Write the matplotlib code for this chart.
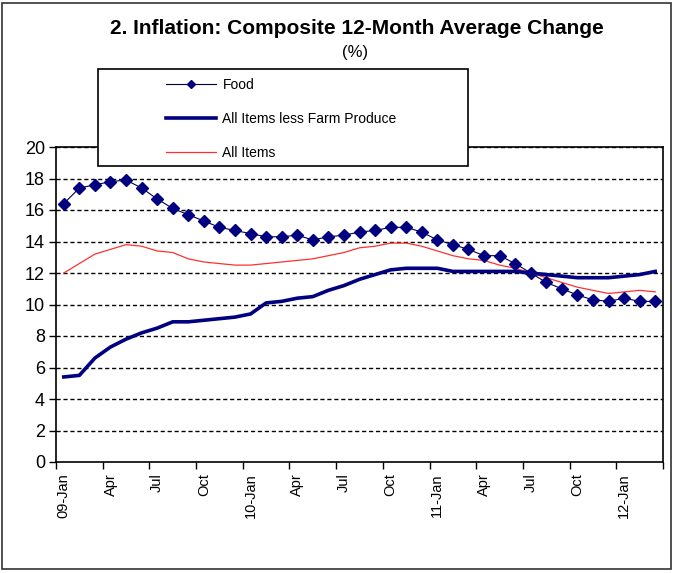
import matplotlib
matplotlib.use("Agg")
import matplotlib.pyplot as plt
from matplotlib.patches import Rectangle
from matplotlib.lines import Line2D

plt.rcParams['font.family'] = ['Liberation Sans', 'DejaVu Sans']

# Monthly data, Jan 2009 .. Mar 2012 (39 months)
food = [16.4, 17.4, 17.6, 17.8, 17.9, 17.4, 16.7, 16.1, 15.7, 15.3,
        14.9, 14.7, 14.5, 14.3, 14.3, 14.4, 14.1, 14.3, 14.4, 14.6,
        14.7, 14.9, 14.9, 14.6, 14.1, 13.8, 13.5, 13.1, 13.1, 12.6,
        12.0, 11.4, 11.0, 10.6, 10.3, 10.2, 10.4, 10.2, 10.2]
core = [5.4, 5.5, 6.6, 7.3, 7.8, 8.2, 8.5, 8.9, 8.9, 9.0,
        9.1, 9.2, 9.4, 10.1, 10.2, 10.4, 10.5, 10.9, 11.2, 11.6,
        11.9, 12.2, 12.3, 12.3, 12.3, 12.1, 12.1, 12.1, 12.1, 12.1,
        12.0, 11.9, 11.8, 11.7, 11.7, 11.7, 11.8, 11.9, 12.1]
all_items = [12.0, 12.6, 13.2, 13.5, 13.8, 13.7, 13.4, 13.3, 12.9, 12.7,
             12.6, 12.5, 12.5, 12.6, 12.7, 12.8, 12.9, 13.1, 13.3, 13.6,
             13.7, 13.9, 13.9, 13.7, 13.4, 13.1, 12.9, 12.8, 12.5, 12.3,
             12.0, 11.7, 11.4, 11.1, 10.9, 10.7, 10.8, 10.9, 10.8]
tick_labels = ["09-Jan", "Apr", "Jul", "Oct", "10-Jan", "Apr", "Jul", "Oct",
               "11-Jan", "Apr", "Jul", "Oct", "12-Jan"]
series_names = ["Food", "All Items less Farm Produce", "All Items"]

W, H = 675, 573
fig = plt.figure(figsize=(W / 100, H / 100), dpi=100)

# outer border
fig.patches.append(Rectangle((2 / W, 4 / H), 669 / W, 566 / H, transform=fig.transFigure,
                             fill=False, edgecolor='#333333', linewidth=1.2, zorder=0))

ax = fig.add_axes([56 / W, (H - 462) / H, (663 - 56) / W, (462 - 147) / H])
x = list(range(len(food)))

navy = '#000080'
ax.plot(x, all_items, color='#ff3030', linewidth=0.9, zorder=3)
ax.plot(x, core, color=navy, linewidth=2.6, zorder=4)
ax.plot(x, food, color='#000040', linewidth=0.8, marker='D', markersize=6.2,
        markerfacecolor=navy, markeredgecolor=navy, zorder=5)

ax.set_xlim(-0.5, len(food) - 0.5)
ax.set_ylim(0, 20)
ax.set_yticks(range(0, 21, 2))
ax.tick_params(axis='y', labelsize=13, length=5, width=1, direction='out', pad=3)
for yv in range(2, 21, 2):
    ax.axhline(yv, color='black', linewidth=1.0, linestyle=(0, (3, 2)), zorder=1)

ax.set_xticks([i - 0.5 for i in range(0, len(food) + 1, 3)])
ax.set_xticklabels([])
ax.tick_params(axis='x', which='major', length=5, width=1, direction='out')
ax.set_xticks(list(range(0, len(food), 3)), minor=True)
ax.set_xticklabels(tick_labels, minor=True, rotation=90, fontsize=10.5)
ax.tick_params(axis='x', which='minor', length=0, pad=8)

for s in ax.spines.values():
    s.set_linewidth(1.2)
    s.set_color('black')

fig.text(357 / W, 1 - 28 / H, "2. Inflation: Composite 12-Month Average Change",
         ha='center', va='center', fontsize=15, fontweight='bold')
fig.text(355 / W, 1 - 53 / H, "(%)", ha='center', va='center', fontsize=12)

# legend box
fig.patches.append(Rectangle((98 / W, (H - 166) / H), 370 / W, 97 / H, transform=fig.transFigure,
                             facecolor='white', edgecolor='black', linewidth=1.2, zorder=4))
handles = [
    Line2D([], [], color='#000040', linewidth=0.8, marker='D', markersize=4,
           markerfacecolor=navy, markeredgecolor=navy),
    Line2D([], [], color=navy, linewidth=2.6),
    Line2D([], [], color='#ff3030', linewidth=0.9),
]
leg = fig.legend(handles, series_names, loc='upper left',
                 bbox_to_anchor=(160 / W, 1 - 72 / H), frameon=False,
                 fontsize=10, handlelength=3.6, handletextpad=0.5,
                 labelspacing=1.45, borderaxespad=0)
leg.set_zorder(6)

fig.savefig("out.png", dpi=100)
